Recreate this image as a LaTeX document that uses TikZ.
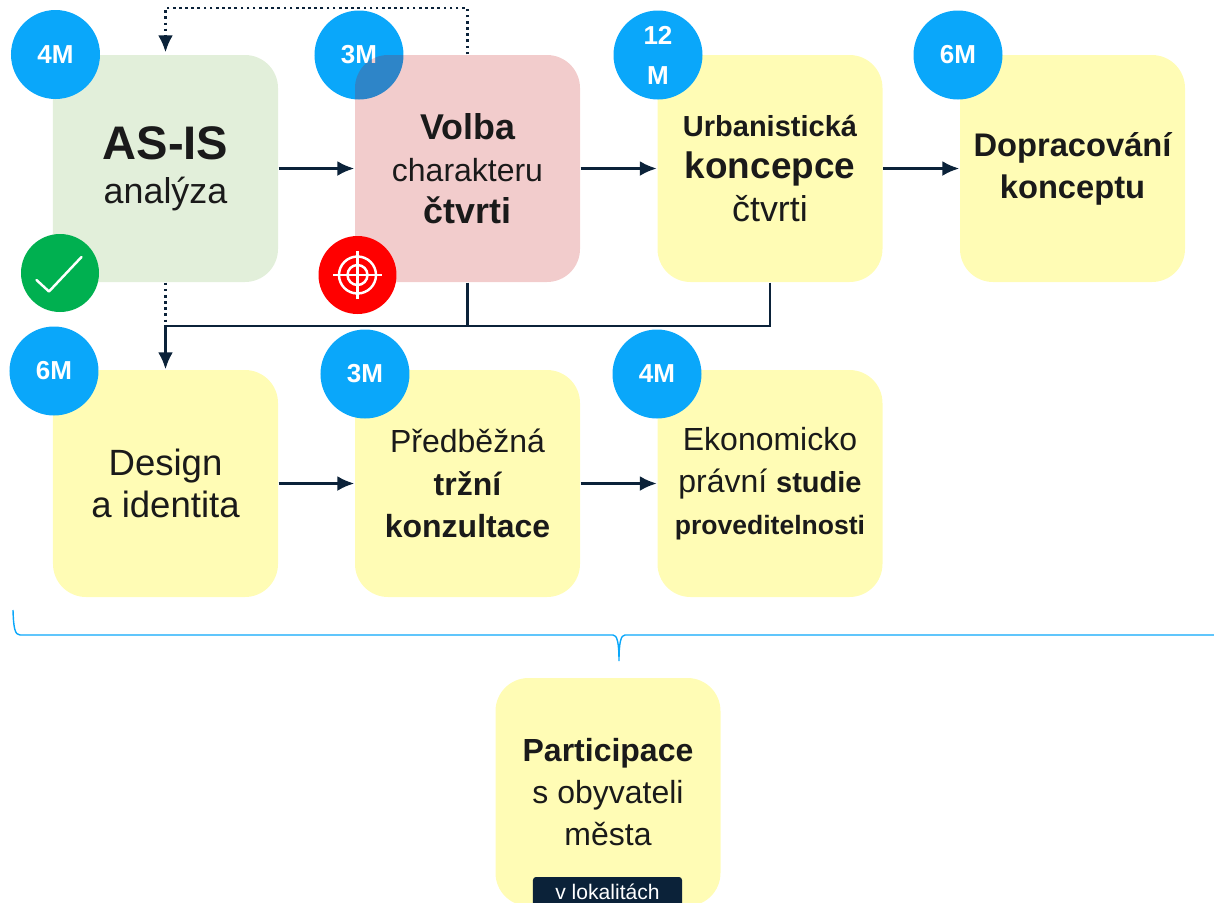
\documentclass[tikz,border=0pt]{standalone}
\usepackage{fontspec}
\setmainfont{Liberation Sans}
\usetikzlibrary{arrows.meta}
\definecolor{boxyellow}{HTML}{FFFCB5}
\definecolor{boxgreen}{HTML}{E2EFDA}
\definecolor{badgeblue}{HTML}{0AA7FA}
\definecolor{navy}{HTML}{0B2239}
\definecolor{inktext}{HTML}{1A1A1A}
\definecolor{okgreen}{HTML}{00B050}
\newcommand{\fs}[2]{\fontsize{#1}{#2}\selectfont}
\tikzset{
  card/.style={rectangle,rounded corners=0.33cm,minimum width=2.25cm,minimum height=2.27cm,inner sep=0pt,align=center,text=inktext},
  badge/.style={circle,fill=badgeblue,minimum size=0.89cm,inner sep=0pt,text=white,align=center,font=\bfseries\fs{7.4}{11.4}},
  mark/.style={},
  flow/.style={-{Latex[length=1.7mm,width=1.5mm]},navy,line width=0.75pt},
  link/.style={navy,line width=0.75pt},
  iconline/.style={white,line width=0.7pt}
}
\begin{document}
\begin{tikzpicture}
\useasboundingbox (0,0) rectangle (12.14,9.02);
% badge under the pink card
\node (bvolba) at (3.59,8.47) [badge]{3M};
% top row
\node (asis) at (1.655,7.335) [card,fill=boxgreen]{\fs{13.4}{13.4}\bfseries AS-IS\\[0.4pt]\fs{10.2}{12}analýza};
\node (volba) at (4.675,7.335) [card,fill={rgb,255:red,192;green,0;blue,0},fill opacity=0.2,text opacity=1]{\fs{10.2}{12}\bfseries Volba\\\fs{9.1}{12}charakteru\\\fs{10.2}{12}\bfseries čtvrti};
\node (urban) at (7.7,7.335) [card,fill=boxyellow]{\fs{8.25}{12.6}\bfseries Urbanistická\\\fs{10.5}{12.6}\bfseries koncepce\\\fs{10.2}{12.6}čtvrti};
\node (dopr) at (10.725,7.335) [card,fill=boxyellow]{\fs{9.3}{10.7}\bfseries Dopracování\\\fs{9.3}{10.7}\bfseries konceptu};
% bottom row
\node (design) at (1.655,4.185) [card,fill=boxyellow]{\fs{10.4}{12.8}Design\\\fs{10.4}{12.8}a identita};
\node (trzni) at (4.675,4.185) [card,fill=boxyellow]{\fs{9.1}{11}Předběžná\\\fs{9.1}{11}\bfseries tržní\\\fs{9.1}{11}\bfseries konzultace};
\node (studie) at (7.7,4.185) [card,fill=boxyellow]{\fs{9.1}{10.7}Ekonomicko\\\fs{9.1}{10.7}právní \fs{8.25}{10.7}\bfseries studie\\\fs{7.55}{10.7}\bfseries proveditelnosti};
\node (partic) at (6.08,1.1) [card,fill=boxyellow,minimum height=2.28cm]{\fs{9.1}{10.95}\bfseries Participace\\\fs{9.1}{10.95}s obyvateli\\\fs{9.1}{10.95}města};
\node (lokal) at (6.075,0.105) [rectangle,rounded corners=0.03cm,fill=navy,text=white,minimum width=1.49cm,minimum height=0.29cm,inner sep=0pt,font=\fs{6}{7}]{v lokalitách};
% time badges
\node (basis) at (0.555,8.475) [badge]{4M};
\node (burban) at (6.58,8.47) [badge]{12\\M};
\node (bdopr) at (9.58,8.47) [badge]{6M};
\node (bdesign) at (0.54,5.31) [badge]{6M};
\node (btrzni) at (3.65,5.28) [badge]{3M};
\node (bstudie) at (6.57,5.28) [badge]{4M};
% status icons
\node (ok) at (0.6,6.29) [circle,fill=okgreen,minimum size=0.78cm,inner sep=0pt]{};
\draw[iconline,line cap=round,line join=round] (0.365,6.22) -- (0.49,6.105) -- (0.815,6.45);
\node (goal) at (3.575,6.27) [circle,fill=red,minimum size=0.78cm,inner sep=0pt]{};
\draw[iconline] (goal) circle (0.185);
\draw[iconline] (goal) circle (0.1);
\draw[iconline] ([xshift=-0.24cm]goal.center) -- ([xshift=0.24cm]goal.center);
\draw[iconline] ([yshift=-0.24cm]goal.center) -- ([yshift=0.24cm]goal.center);
% connectors
\draw[flow] (asis.east) -- (volba.west);
\draw[flow] (volba.east) -- (urban.west);
\draw[flow] (urban.east) -- (dopr.west);
\draw[flow] (design.east) -- (trzni.west);
\draw[flow] (trzni.east) -- (studie.west);
\coordinate (top) at (4.675,8.94);
\coordinate (joint) at (4.675,5.76);
\draw[flow,densely dotted] (volba.north) -- (top) -| ([yshift=0.02cm]asis.north);
\draw[link,densely dotted] (asis.south) -- (asis.south |- joint);
\draw[link] (volba.south) -- (joint);
\draw[flow] (urban.south) |- (design.north |- joint) -- (design.north);
% brace
\draw[badgeblue,line width=0.4pt] (0.13,2.92) .. controls (0.135,2.74) and (0.15,2.67) .. (0.2,2.67) -- (6.13,2.67) .. controls (6.17,2.67) and (6.19,2.6) .. (6.19,2.41) .. controls (6.19,2.6) and (6.21,2.67) .. (6.25,2.67) -- (12.14,2.67);
\end{tikzpicture}
\end{document}
